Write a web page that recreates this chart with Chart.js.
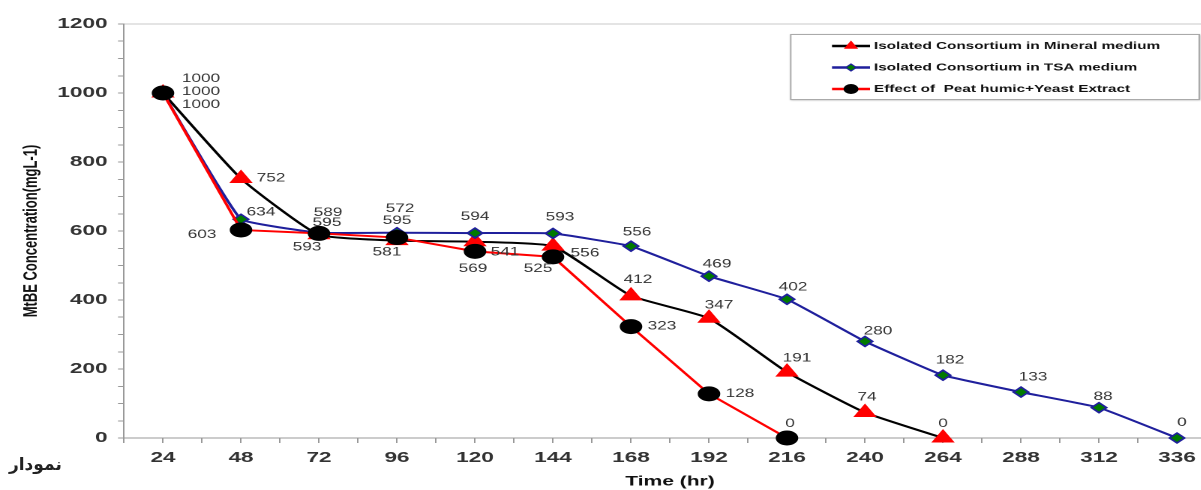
<!DOCTYPE html>
<html>
<head>
<meta charset="utf-8">
<script src="https://cdn.jsdelivr.net/npm/chart.js@4.4.1/dist/chart.umd.min.js"></script>
<style>
  html, body { margin: 0; padding: 0; background: #fff; overflow: hidden; }
  #wrap { position: absolute; left: 0; top: 0; width: 820px; height: 490px; transform: scaleX(1.5); transform-origin: 0 0; }
  #note { position: absolute; left: 9px; top: 454px; font: bold 17px "DejaVu Sans", sans-serif; color: #222; direction: rtl; }
</style>
</head>
<body>
<div id="wrap"><canvas id="chart" width="820" height="490"></canvas></div>
<div id="note">نمودار</div>
<script>
'use strict';

// the picture is wider than tall in every glyph and marker, so the canvas is stretched
const STRETCH = 1.5;

const hours = [24, 48, 72, 96, 120, 144, 168, 192, 216, 240, 264, 288, 312, 336];
const yTickLabels = [0, 200, 400, 600, 800, 1000, 1200];

const mineral = [1000, 752, 589, 572, 569, 556, 412, 347, 191, 74, 0];
const tsa = [1000, 634, 595, 595, 594, 593, 556, 469, 402, 280, 182, 133, 88, 0];
const peat = [1000, 603, 593, 581, 541, 525, 323, 128, 0];

const seriesNames = [
    'Isolated Consortium in Mineral medium',
    'Isolated Consortium in TSA medium',
    'Effect of  Peat humic+Yeast Extract'
];

// where each value label sits relative to its point (screen px)
const mineralOffsets = [[38, -14], [30, 0], [9, -22], [3, -32], [-2, 27], [32, 7], [7, -16], [10, -13], [10, -14], [2, -15], [0, -14]];
const tsaOffsets = [[38, -1], [20, -7], [8, -10], [0, -12], [0, -16], [7, -16], [6, -14], [8, -12], [6, -12], [13, -10], [7, -15], [12, -15], [4, -11], [5, -15]];
const peatOffsets = [[38, 12], [-39, 5], [-12, 14], [-10, 15], [30, 1], [-15, 12], [31, 0], [31, 0], [3, -14]];
const labelOffsets = [mineralOffsets, tsaOffsets, peatOffsets];

const FONT = '"Liberation Sans", Arial, sans-serif';

function toPoints(values) {
    return values.map(function (v, i) {
        return { x: hours[i], y: v };
    });
}

const valueLabels = {
    id: 'valueLabels',
    afterDatasetsDraw(chart) {
        const ctx = chart.ctx;
        ctx.save();
        ctx.font = '11.5px ' + FONT;
        ctx.fillStyle = '#333';
        ctx.textAlign = 'center';
        ctx.textBaseline = 'middle';
        chart.data.datasets.forEach(function (ds, di) {
            const meta = chart.getDatasetMeta(di);
            meta.data.forEach(function (pt, i) {
                const off = labelOffsets[di][i];
                ctx.fillText(String(ds.data[i].y), pt.x + off[0] / STRETCH, pt.y + off[1]);
            });
        });
        ctx.restore();
    }
};

const boxLegend = {
    id: 'boxLegend',
    afterDraw(chart) {
        const ctx = chart.ctx;
        const left = 790 / STRETCH, right = 1200 / STRETCH, top = 34, bottom = 100;
        ctx.save();
        ctx.fillStyle = '#fff';
        ctx.shadowColor = 'rgba(0,0,0,0.25)';
        ctx.shadowBlur = 3;
        ctx.shadowOffsetX = 1;
        ctx.shadowOffsetY = 1;
        ctx.fillRect(left, top, right - left, bottom - top);
        ctx.shadowColor = 'transparent';
        ctx.strokeStyle = '#aaa';
        ctx.lineWidth = 1;
        ctx.strokeRect(left + 0.5, top + 0.5, right - left - 1, bottom - top - 1);

        ctx.font = 'bold 10.2px ' + FONT;
        ctx.textBaseline = 'middle';
        ctx.textAlign = 'left';
        chart.data.datasets.forEach(function (ds, i) {
            const y = 46 + i * 21.5;
            const x0 = 832 / STRETCH, x1 = 870 / STRETCH;
            ctx.strokeStyle = ds.borderColor;
            ctx.lineWidth = 2.5;
            ctx.beginPath();
            ctx.moveTo(x0, y);
            ctx.lineTo(x1, y);
            ctx.stroke();
            ctx.fillStyle = ds.pointBackgroundColor;
            ctx.strokeStyle = ds.pointBorderColor;
            ctx.lineWidth = 1;
            Chart.helpers.drawPoint(ctx, {
                pointStyle: ds.pointStyle,
                radius: ds.pointStyle === 'rectRot' ? 3.5 : 4.5,
                rotation: 0,
                borderWidth: 1
            }, (x0 + x1) / 2, y);
            ctx.fillStyle = '#111';
            ctx.fillText(ds.label, 874 / STRETCH, y);
        });
        ctx.restore();
    }
};

new Chart(document.getElementById('chart'), {
    type: 'line',
    data: {
        datasets: [
            {
                label: seriesNames[0],
                data: toPoints(mineral),
                borderColor: '#000000',
                borderWidth: 2,
                tension: 0.15,
                pointStyle: 'triangle',
                pointRadius: 8,
                pointBackgroundColor: '#ff0000',
                pointBorderColor: '#ff0000',
                pointBorderWidth: 1,
                clip: false,
                order: 2
            },
            {
                label: seriesNames[1],
                data: toPoints(tsa),
                borderColor: '#1f1f9c',
                borderWidth: 2,
                tension: 0.1,
                pointStyle: 'rectRot',
                pointRadius: 5,
                pointBackgroundColor: '#007a00',
                pointBorderColor: '#1f1f9c',
                pointBorderWidth: 1.5,
                clip: false,
                order: 1
            },
            {
                label: seriesNames[2],
                data: toPoints(peat),
                borderColor: '#ff0000',
                borderWidth: 2,
                tension: 0,
                pointStyle: 'circle',
                pointRadius: 7,
                pointBackgroundColor: '#000000',
                pointBorderColor: '#000000',
                pointBorderWidth: 1,
                clip: false,
                order: 0
            }
        ]
    },
    options: {
        responsive: false,
        animation: false,
        devicePixelRatio: 2,
        events: [],
        layout: {
            padding: { top: 24, right: 820 - 1216 / STRETCH, left: 0, bottom: 0 }
        },
        plugins: {
            legend: { display: false },
            tooltip: { enabled: false }
        },
        scales: {
            x: {
                type: 'linear',
                min: 12,
                max: 348,
                afterFit(scale) { scale.height = 52; },
                border: { color: '#999', width: 1 },
                grid: { drawOnChartArea: false, tickLength: 5, color: '#999' },
                ticks: {
                    stepSize: 12,
                    autoSkip: false,
                    maxRotation: 0,
                    padding: 6,
                    color: '#333',
                    font: { family: FONT, size: 15, weight: 'bold' },
                    callback: function (v) { return hours.includes(v) ? String(v) : ''; }
                },
                title: {
                    display: true,
                    text: 'Time (hr)',
                    color: '#111',
                    font: { family: FONT, size: 14, weight: 'bold' },
                    padding: 0
                }
            },
            y: {
                min: 0,
                max: 1200,
                afterFit(scale) { scale.width = 124 / STRETCH; },
                border: { color: '#999', width: 1 },
                grid: {
                    tickLength: 4,
                    tickColor: '#999',
                    color: function (c) {
                        return c.tick && c.tick.value === 1200 ? '#c8c8c8' : 'rgba(0,0,0,0)';
                    }
                },
                ticks: {
                    stepSize: 50,
                    autoSkip: false,
                    padding: 7,
                    color: '#333',
                    font: { family: FONT, size: 15, weight: 'bold' },
                    callback: function (v) { return yTickLabels.includes(v) ? String(v) : ''; }
                },
                title: {
                    display: true,
                    text: 'MtBE Concentration(mgL-1)',
                    color: '#111',
                    font: { family: FONT, size: 13, weight: 'bold' },
                    padding: { top: 13, bottom: 0 }
                }
            }
        }
    },
    plugins: [valueLabels, boxLegend]
});
</script>
</body>
</html>
